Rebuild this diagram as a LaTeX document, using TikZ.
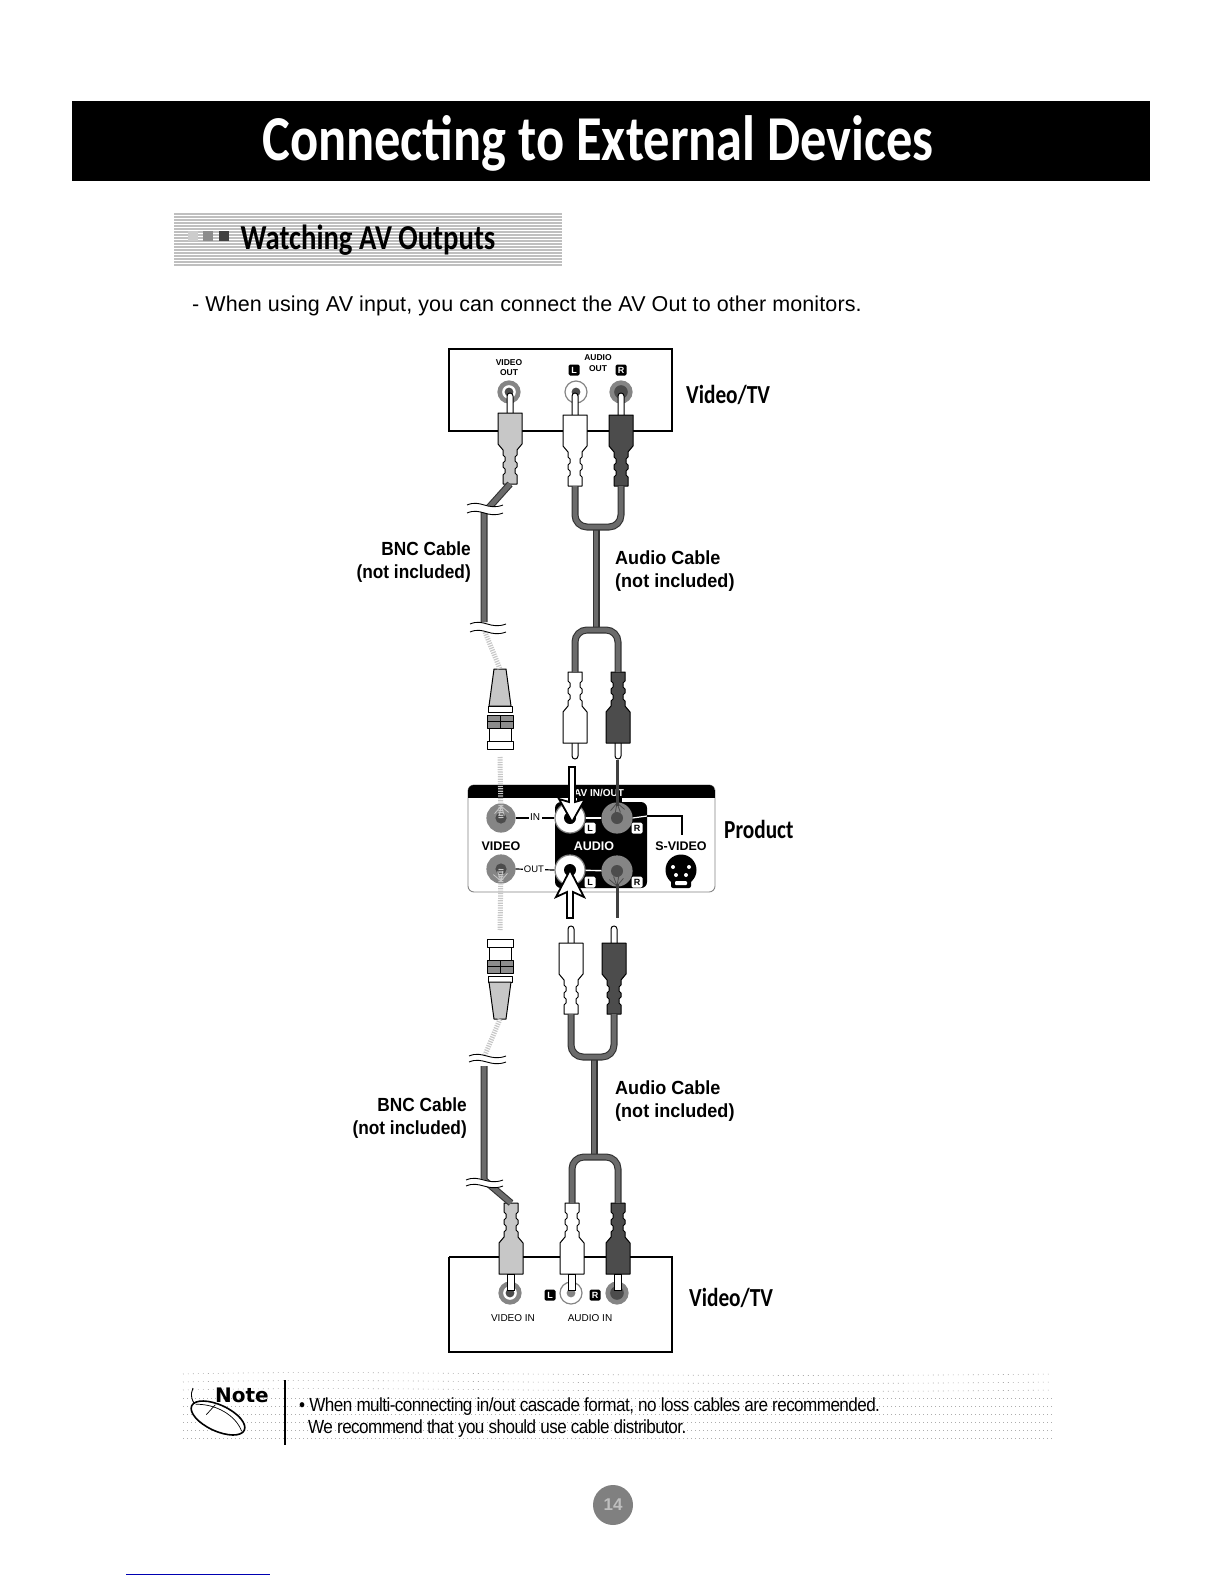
\documentclass[tikz,border=0pt]{standalone}
\usepackage{fontspec}
\setmainfont{Liberation Sans}
\newfontfamily\ttlfont{Carlito}[FakeStretch=0.82]
\newfontfamily\lblfont{Liberation Sans}[FakeStretch=0.95]
\newfontfamily\lbnfont{Liberation Sans}[FakeStretch=0.91]
\newfontfamily\notefont{DejaVu Sans}
\newfontfamily\bodyfont{Liberation Sans}[FakeStretch=0.9,LetterSpace=-3]
\usetikzlibrary{calc}
\definecolor{lgray}{gray}{0.78}
\definecolor{mgray}{gray}{0.52}
\definecolor{dgray}{gray}{0.30}
\tikzset{
  txt/.style={inner sep=0pt,font=\fontsize{#1}{#1}\selectfont},
  ttl/.style={inner sep=0pt,font=\ttlfont\bfseries\fontsize{#1}{#1}\selectfont},
  lbl/.style={inner sep=0pt,align=right,font=\lbnfont\bfseries\fontsize{19}{23}\selectfont},
  lbr/.style={inner sep=0pt,align=left,font=\lblfont\bfseries\fontsize{19}{23}\selectfont},
  tiny/.style={inner sep=0pt,font=\bfseries\fontsize{#1}{#1}\selectfont},
  thinlabel/.style={inner sep=0pt,font=\fontsize{#1}{#1}\selectfont},
  cable/.style={draw=black!80,double=black!58,line width=1.1pt,double distance=4.8pt,rounded corners=12pt,line cap=butt},
  cablelight/.style={draw=lgray,line width=5pt,dash pattern=on 1.2pt off 1.2pt},
  brk/.style={draw=black,line width=.9pt},
  outline/.style={draw=black,line width=1.2pt},
  plugline/.style={draw=black,line width=1pt,line join=round},
  jackring/.style={circle,inner sep=0pt,draw=mgray,line width=1.2pt},
  tagbox/.style={inner sep=0pt,minimum width=11pt,minimum height=11pt,rounded corners=1.5pt,font=\bfseries\fontsize{9}{9}\selectfont},
  arrowshape/.style={draw=black,fill=white,line width=1.8pt,line join=miter},
  band/.style={black!32,line width=.6pt},
}
% name, cx, face y, direction (1 = pin up, -1 = pin down), body fill, pin length
\newcommand\rcaplug[6]{%
  \begin{scope}[shift={(#2,#3)},yscale=#4]
    \draw[plugline,fill=white] (-3,0) -- (-3,{-#6+4}) .. controls (-3,-#6) and (3,-#6) .. (3,{-#6+4}) -- (3,0);
    \draw[plugline,fill=#5] (-12,0) -- (12,0) -- (12,31) -- (7,37) -- (7,42) -- (5,44) -- (5,48) -- (7,50) -- (7,54) -- (5,56) -- (5,60) -- (7,62) -- (7,71)
      -- (-7,71) -- (-7,62) -- (-5,60) -- (-5,56) -- (-7,54) -- (-7,50) -- (-5,48) -- (-5,44) -- (-7,42) -- (-7,37) -- (-12,31) -- cycle;
    \coordinate (#1) at (0,71);
  \end{scope}}
% name, cx, cap edge y, direction towards the cone
\newcommand\bncplug[4]{%
  \begin{scope}[shift={(#2,#3)},yscale=#4]
    \draw[plugline,fill=white] (-13,0) rectangle (13,8);
    \draw[plugline,fill=white] (-11,8) rectangle (11,21);
    \draw[plugline,fill=black!45] (-13,21) rectangle (13,34);
    \draw[plugline] (-13,27.5) -- (13,27.5) (0,21) -- (0,34);
    \draw[plugline,fill=white] (-12,37) rectangle (12,43);
    \draw[plugline,fill=lgray] (-11,43) -- (11,43) -- (6,80) -- (-6,80) -- cycle;
    \coordinate (#1) at (0,80);
  \end{scope}}
% name, x, y, diameter, ring fill, middle fill, centre fill
\newcommand\jack[7]{%
  \node[jackring,minimum size=#4pt,fill=#5] (#1) at (#2,#3) {};
  \fill[#6] (#1.center) circle[radius={#4*0.31}];
  \fill[#7] (#1.center) circle[radius={#4*0.2}];}
\newcommand\blacktag[4]{\node[tagbox,fill=black,text=white] (#1) at (#2,#3) {#4};}
\newcommand\whitetag[4]{\node[tagbox,fill=white,text=black] (#1) at (#2,#3) {#4};}
% pair of wavy break lines: x1, x2, y1, y2
\newcommand\breakmark[4]{%
  \fill[white] (#1+4,#3) .. controls (#1+16,#3-6) and (#2-16,#3+6) .. (#2,#3)
     -- (#2,#4) .. controls (#2-16,#4+6) and (#1+16,#4-6) .. (#1+4,#4) -- cycle;
  \draw[brk] (#1,#3) .. controls (#1+14,#3-6) and (#2-16,#3+6) .. (#2,#3);
  \draw[brk] (#1,#4) .. controls (#1+14,#4-6) and (#2-16,#4+6) .. (#2,#4);}
% x, y, colour, first angle, second angle, last angle
\newcommand\starburst[6]{%
  \foreach \a in {#4,#5,...,#6} {\draw[#3,line width=.8pt] (#1,#2) -- ++(\a:10);}}
\begin{document}
\begin{tikzpicture}[x=1pt,y=-1pt]
\useasboundingbox (0,0) rectangle (1224,1584);
\fill[white] (0,0) rectangle (1224,1584);

% ---------- heading
\fill[black] (72,101) rectangle (1150,181);
\node[ttl=64,text=white] (title) at (598,143) {Connecting to External Devices};

% ---------- sub-heading band
\fill[black!25] (174,213) rectangle (562,267);
\foreach \y in {215,218,...,266} {\draw[white,line width=.6pt] (174,\y) -- (562,\y);}
\fill[black!20] (188,231) rectangle (198,241);
\fill[black!45] (203,231) rectangle (213,241);
\fill[black!75] (219,231) rectangle (229,241);
\node[ttl=35,text=black] (sub) at (368,240) {Watching AV Outputs};
\node[txt=21.5,anchor=west] (intro) at (192,306) {\addfontfeatures{LetterSpace=0.5}- When using AV input, you can connect the AV Out to other monitors.};

% ---------- upper Video/TV box
\draw[outline] (449,349) rectangle (672,431);
\node[tiny=8.5] (tv1a) at (509,363) {VIDEO};
\node[tiny=8.5] (tv1b) at (509,373) {OUT};
\node[tiny=8.5] (tv1c) at (598,358) {AUDIO};
\node[tiny=8.5] (tv1d) at (598,369) {OUT};
\blacktag{tv1l}{574}{370}{L}
\blacktag{tv1r}{621}{370}{R}
\jack{jvo}{509}{392}{22}{mgray}{white}{dgray}
\jack{jlo}{576}{392}{22}{white}{white}{dgray}
\jack{jro}{621}{392}{22}{mgray}{dgray}{dgray}
\node[ttl=26,anchor=west] (tvtop) at (686,395) {Video/TV};

% ---------- cables, upper section
\coordinate (u1) at (488,503);
\coordinate (u2) at (484,513);
\coordinate (u3) at (484,622);
\coordinate (s1) at (596,527);
\coordinate (s2) at (596,630);
\rcaplug{pv1}{510}{413}{1}{lgray}{21}
\rcaplug{pl1}{575}{415}{1}{white}{23}
\rcaplug{pr1}{621}{415}{1}{dgray}{23}
\rcaplug{pl2}{575}{743}{-1}{white}{17}
\rcaplug{pr2}{618}{743}{-1}{dgray}{17}
\bncplug{bnc1}{500}{749}{-1}
\draw[cable,rounded corners=0pt] (pv1) -- (u2) -- (u3);
\draw[cable,rounded corners=0pt] (s1) -- (s2);
\draw[cable] (pl1) -- (pl1 |- s1) -- (pr1 |- s1) -- (pr1);
\draw[cable] (pl2) -- (pl2 |- s2) -- (pr2 |- s2) -- (pr2);
\draw[cablelight] (485,632) -- (bnc1);
\breakmark{467}{503}{505}{513}
\breakmark{470}{506}{624}{632}
\node[lbl,anchor=east] (bncA) at (471,562) {BNC Cable\\(not included)};
\node[lbr,anchor=west] (audA) at (615,571) {Audio Cable\\(not included)};

% ---------- product panel
\draw[draw=mgray,line width=.9pt,rounded corners=6pt] (468,785) rectangle (715,892);
\begin{scope}
  \clip[rounded corners=6pt] (468,785) rectangle (715,892);
  \fill[black] (468,785) rectangle (715,798);
\end{scope}
\fill[black,rounded corners=6pt] (555,802) rectangle (647,888);
\fill[black] (577,790) rectangle (622,802);
\node[inner sep=0pt,text=white,font=\bfseries\fontsize{10}{10}\selectfont] (avio) at (599,793) {AV IN/OUT};
\coordinate (svbend) at (682,816);
\coordinate (svend) at (682,835);
\jack{jvi}{501}{818}{28}{mgray}{mgray}{dgray}
\jack{jvq}{501}{869}{28}{mgray}{mgray}{dgray}
\jack{jli}{570}{818}{30}{white}{white}{black}
\jack{jri}{617}{818}{30}{mgray}{mgray}{dgray}
\jack{jlq}{570}{870}{30}{white}{white}{black}
\jack{jrq}{617}{871}{30}{mgray}{mgray}{dgray}
\draw[white,line width=1.4pt] (jli) -- (jri);
\draw[white,line width=1.4pt] (jlq) -- (jrq);
\draw[black,line width=1.2pt] (jvi.east) -- (jli.west);
\draw[black,line width=1.2pt] (jvq.east) -- (jlq.west);
\draw[white,line width=1.2pt] (jri.east) -- (647,816);
\draw[black,line width=1.4pt] (647,816) -- (svbend) -- (svend);
\node[fill=white,inner sep=1.5pt,font=\fontsize{10}{10}\selectfont] (inl) at (535,817) {IN};
\node[fill=white,inner sep=1pt,font=\fontsize{9.5}{10}\selectfont] (outl) at (534,869) {OUT};
\node[inner sep=0pt,font=\bfseries\fontsize{12.5}{13}\selectfont] (vidl) at (501,846) {VIDEO};
\node[inner sep=0pt,text=white,font=\bfseries\fontsize{12.5}{13}\selectfont] (audl) at (594,846) {AUDIO};
\node[inner sep=0pt,font=\bfseries\fontsize{12.5}{13}\selectfont] (svl) at (681,846) {S-VIDEO};
\whitetag{tgA}{590}{828}{L}
\whitetag{tgB}{637}{828}{R}
\whitetag{tgC}{590}{882}{L}
\whitetag{tgD}{637}{882}{R}
\fill[black] (681,870) circle[radius=15.5];
\fill[black,rounded corners=2pt] (671,878) rectangle (691,888);
\fill[white,rounded corners=1pt] (675,881) rectangle (687,885);
\fill[white] (673,867) circle[radius=2] (689,867) circle[radius=2] (676,875) circle[radius=2] (686,875) circle[radius=2];
\node[ttl=26,anchor=west] (prod) at (724,829) {Product};

% connections into the panel
\draw[cablelight] (500,757) -- (jvi.center);
\draw[cablelight] (jvq.center) -- (500,930);
\starburst{501}{806}{lgray}{40}{70}{140}
\starburst{501}{881}{lgray}{220}{250}{320}
\starburst{617}{803}{black!70}{40}{70}{140}
\starburst{617}{886}{black!70}{220}{250}{320}
\draw[black!75,line width=3pt] (617,760) -- (617,806);
\draw[black!75,line width=3pt] (617,884) -- (617,918);
\draw[arrowshape] (569,767) -- (575,767) -- (575,802) -- (585,799) -- (572,822) -- (559,799) -- (569,802) -- cycle;
\draw[arrowshape] (567,918) -- (573,918) -- (573,892) -- (584,897) -- (570,870) -- (556,897) -- (567,892) -- cycle;

% ---------- cables, lower section
\rcaplug{pl3}{571}{943}{1}{white}{18}
\rcaplug{pr3}{614}{943}{1}{dgray}{18}
\bncplug{bnc2}{500}{939}{1}
\coordinate (s3) at (594,1057);
\coordinate (s4) at (594,1157);
\coordinate (l1) at (485,1055);
\coordinate (l2) at (484,1066);
\coordinate (l3) at (484,1180);
\rcaplug{pv4}{511}{1274}{-1}{lgray}{20}
\rcaplug{pl4}{572}{1274}{-1}{white}{20}
\rcaplug{pr4}{618}{1274}{-1}{dgray}{20}
\draw[cablelight] (bnc2) -- (l1);
\draw[cable,rounded corners=0pt] (l2) -- (l3) -- (pv4);
\draw[cable,rounded corners=0pt] (s3) -- (s4);
\draw[cable] (pl3) -- (pl3 |- s3) -- (pr3 |- s3) -- (pr3);
\draw[cable] (pl4) -- (pl4 |- s4) -- (pr4 |- s4) -- (pr4);
\breakmark{469}{506}{1062}{1056}
\breakmark{466}{503}{1186}{1180}
\node[lbl,anchor=east] (bncB) at (467,1118) {BNC Cable\\(not included)};
\node[lbr,anchor=west] (audB) at (615,1101) {Audio Cable\\(not included)};

% ---------- lower Video/TV box
\draw[outline] (449,1257) -- (499,1257);
\draw[outline] (523,1257) -- (560,1257);
\draw[outline] (584,1257) -- (606,1257);
\draw[outline] (630,1257) -- (672,1257) -- (672,1352) -- (449,1352) -- (449,1257);
\jack{jvb}{510}{1293}{22}{mgray}{white}{dgray}
\jack{jlb}{571}{1293}{22}{white}{white}{mgray}
\jack{jrb}{617}{1293}{22}{mgray}{dgray}{dgray}
\draw[black,line width=.9pt,fill=white] (507,1274) rectangle (514,1290);
\draw[black,line width=.9pt,fill=white] (568,1274) rectangle (575,1290);
\draw[black,line width=.9pt,fill=white] (614,1274) rectangle (621,1290);
\blacktag{tv2l}{550}{1295}{L}
\blacktag{tv2r}{595}{1295}{R}
\node[thinlabel=10] (tv2a) at (513,1318) {VIDEO IN};
\node[thinlabel=10] (tv2b) at (590,1318) {AUDIO IN};
\node[ttl=26,anchor=west] (tvbot) at (689,1298) {Video/TV};

% ---------- note band
\foreach \y in {1398,1406,...,1440} {\draw[band,dash pattern=on .8pt off 3.2pt] (183,\y) -- (1052,\y);}
\foreach \y in {1374,1382,1390} {\draw[band,dash pattern=on .8pt off 4.2pt] (183,\y) .. controls (400,\y-5) and (600,\y+5) .. (1052,\y);}
\draw[black,line width=1.3pt] (285,1380) -- (285,1445);
\node[inner sep=0pt,font=\notefont\bfseries\fontsize{20}{20}\selectfont] (note) at (242,1395) {Note};
\draw[black,line width=.9pt] (199,1409) .. controls (191,1402) and (190,1394) .. (193,1388);
\begin{scope}[shift={(218,1418)},rotate=-25]
  \draw[black,line width=1.6pt,fill=white] (0,0) ellipse[x radius=29,y radius=13];
  \draw[black,line width=.7pt] (-26,-3) .. controls (-8,-12) and (15,-10) .. (27,2);
  \draw[black,line width=.7pt] (-8,-11) -- (-12,2);
\end{scope}
\node[inner sep=0pt,anchor=west,font=\bodyfont\fontsize{19}{20}\selectfont] (n1) at (299,1407) {• When multi-connecting in/out cascade format, no loss cables are recommended.};
\node[inner sep=0pt,anchor=west,font=\bodyfont\fontsize{19}{20}\selectfont] (n2) at (308,1429) {We recommend that you should use cable distributor.};

% ---------- page number
\node[circle,fill=black!50,minimum size=40pt,inner sep=0pt,text=black!25,font=\bfseries\fontsize{17}{17}\selectfont] (page) at (613,1505) {14};

% ---------- stray line at page foot
\draw[blue!70!black,line width=1pt] (126,1574) -- (270,1574);
\end{tikzpicture}
\end{document}
